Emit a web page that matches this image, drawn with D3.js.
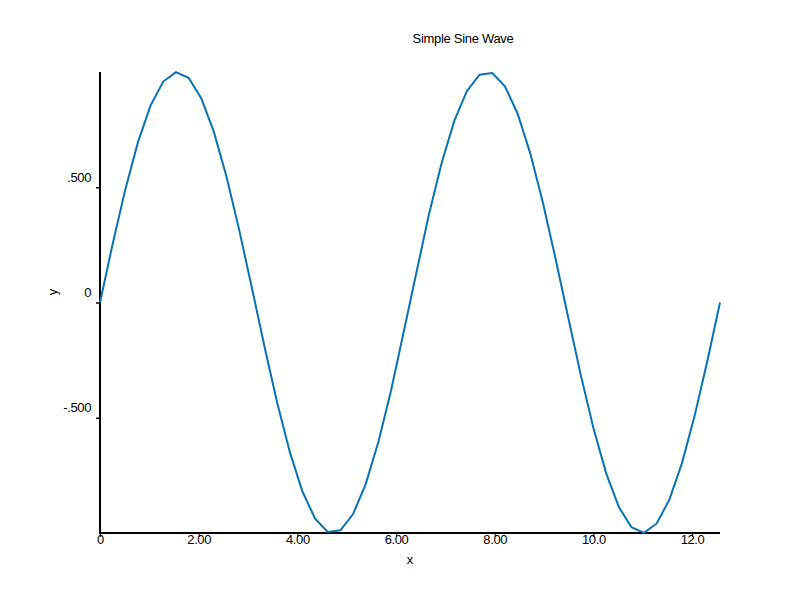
<!DOCTYPE html>
<html>
<head>
<meta charset="utf-8">
<script src="https://cdn.jsdelivr.net/npm/d3@7"></script>
<style>
  body { margin: 0; background: #fff; }
  svg { display: block; font-family: "Liberation Sans", Arial, sans-serif; }
</style>
</head>
<body>
<svg id="chart" width="800" height="600"></svg>
<script>
const xValues = [0.0000, 0.2565, 0.5129, 0.7694, 1.0258, 1.2823, 1.5387, 1.7952, 2.0516, 2.3081,
  2.5646, 2.8210, 3.0775, 3.3339, 3.5904, 3.8468, 4.1033, 4.3598, 4.6162, 4.8727,
  5.1291, 5.3856, 5.6420, 5.8985, 6.1550, 6.4114, 6.6679, 6.9243, 7.1808, 7.4372,
  7.6937, 7.9502, 8.2066, 8.4631, 8.7195, 8.9760, 9.2324, 9.4889, 9.7453, 10.0018,
  10.2583, 10.5147, 10.7712, 11.0276, 11.2841, 11.5405, 11.7970, 12.0534, 12.3099, 12.5664];
const yValues = [0.0000, 0.2537, 0.4907, 0.6956, 0.8551, 0.9586, 0.9995, 0.9749, 0.8866, 0.7403,
  0.5455, 0.3151, 0.0641, -0.1912, -0.4339, -0.6482, -0.8201, -0.9382, -0.9955, -0.9885,
  -0.9178, -0.7876, -0.6056, -0.3827, -0.1279, 0.1279, 0.3827, 0.6056, 0.7876, 0.9178,
  0.9885, 0.9955, 0.9382, 0.8201, 0.6482, 0.4339, 0.1912, -0.0641, -0.3151, -0.5455,
  -0.7403, -0.8866, -0.9749, -0.9995, -0.9586, -0.8551, -0.6956, -0.4907, -0.2537, 0.0000];
const xTicks = [0, 2, 4, 6, 8, 10, 12];
const xTickLabels = ["0", "2.00", "4.00", "6.00", "8.00", "10.0", "12.0"];
const yTicks = [-0.5, 0, 0.5];
const yTickLabels = ["-.500", "0", ".500"];
const title = "Simple Sine Wave";
const xTitle = "x";
const yTitle = "y";

const svg = d3.select("#chart");
const x = d3.scaleLinear().domain([0, 12.5664]).range([100, 720]);
const y = d3.scaleLinear().domain([-1, 1]).range([533, 72]);

// x axis
const gx = svg.append("g").attr("transform", "translate(0,533)")
  .call(d3.axisBottom(x).tickValues(xTicks)
    .tickFormat((d, i) => xTickLabels[i]).tickSizeOuter(0).tickSize(4).tickPadding(-2));
gx.select(".domain").remove();
gx.append("line").attr("x1", x.range()[0] - 1).attr("x2", x.range()[1])
  .attr("stroke", "#000").attr("stroke-width", 2);
gx.selectAll(".tick line").attr("stroke", "#000").attr("stroke-width", 1);
gx.selectAll(".tick text").attr("font-size", 13).attr("fill", "#000")
  .attr("font-family", "Liberation Sans, Arial, sans-serif").attr("letter-spacing", -0.4);

// y axis
const gy = svg.append("g").attr("transform", "translate(100,0)")
  .call(d3.axisLeft(y).tickValues(yTicks)
    .tickFormat((d, i) => yTickLabels[i]).tickSizeOuter(0).tickSize(4));
gy.select(".domain").remove();
gy.append("line").attr("y1", y.range()[1]).attr("y2", y.range()[0] + 1)
  .attr("stroke", "#000").attr("stroke-width", 2);
gy.selectAll(".tick line").attr("stroke", "#000").attr("stroke-width", 1.5);
gy.selectAll(".tick text").attr("font-size", 13).attr("fill", "#000")
  .attr("font-family", "Liberation Sans, Arial, sans-serif").attr("letter-spacing", -0.4)
  .attr("x", -9).attr("dy", "-0.45em");

// line
const line = d3.line().x((d, i) => x(xValues[i])).y(d => y(d));
svg.append("path").datum(yValues)
  .attr("d", line).attr("fill", "none")
  .attr("stroke", "#0872b4").attr("stroke-width", 2);

// titles
svg.append("text").attr("x", 463).attr("y", 43).attr("text-anchor", "middle")
  .attr("font-size", 13).attr("letter-spacing", -0.3).text(title);
svg.append("text").attr("x", 410).attr("y", 564).attr("text-anchor", "middle")
  .attr("font-size", 13).text(xTitle);
svg.append("text").attr("transform", "translate(57,292) rotate(-90)")
  .attr("text-anchor", "middle").attr("font-size", 13).text(yTitle);
</script>
</body>
</html>
